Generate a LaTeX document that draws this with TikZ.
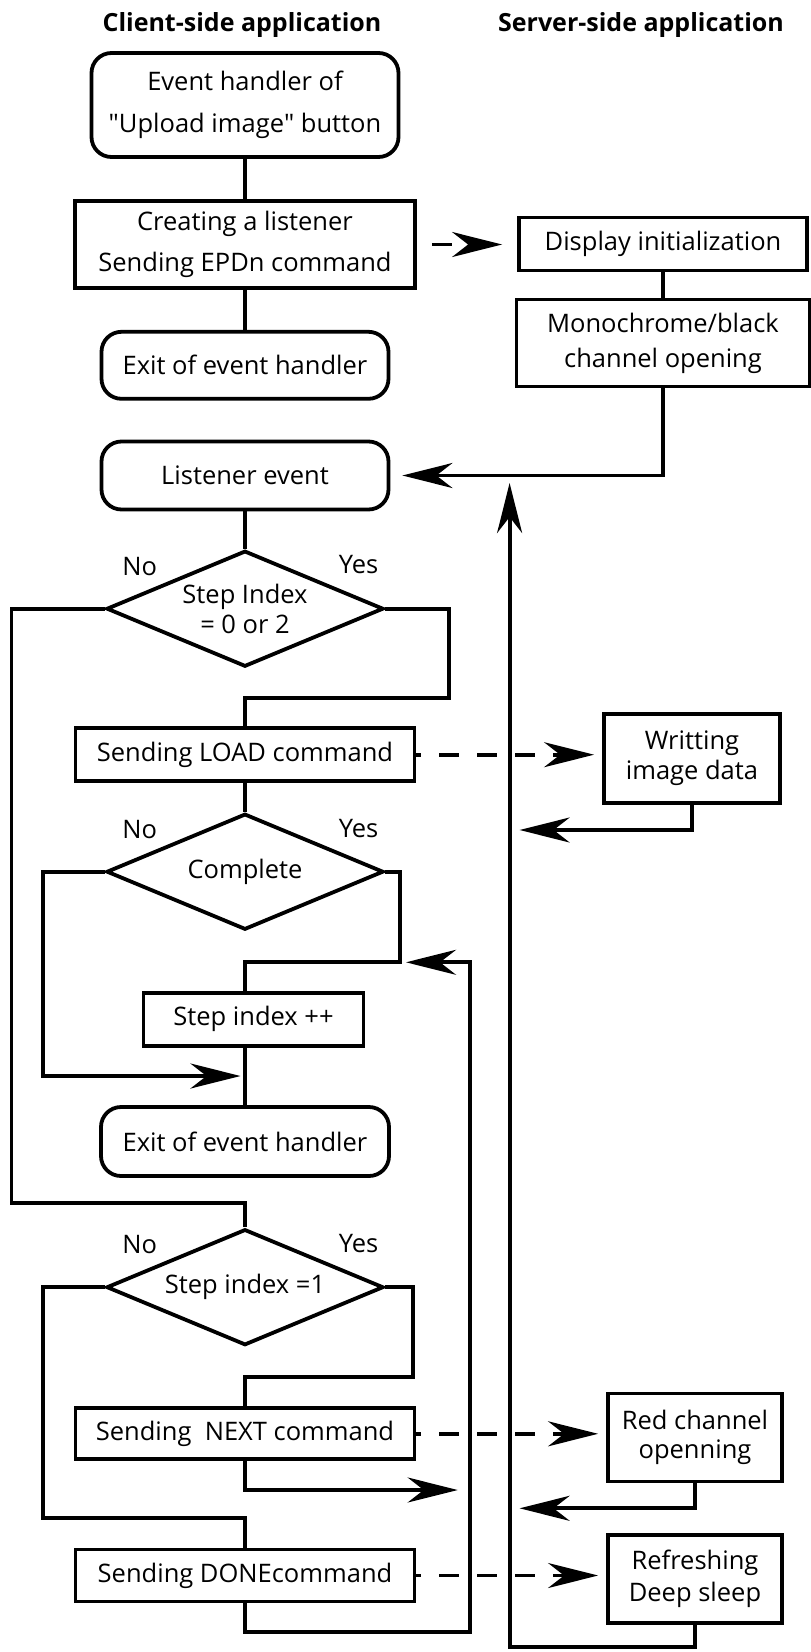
\documentclass[tikz,border=0pt]{standalone}
\usepackage{fontspec}
\setmainfont{Open Sans}
\usetikzlibrary{shapes.geometric,arrows.meta}
\begin{document}
\begin{tikzpicture}[x=1pt,y=-1pt, line width=3.8pt,
  every node/.style={font=\fontsize{25.5}{30}\selectfont, inner sep=0pt},
  box/.style={draw, rectangle, align=center},
  rbox/.style={draw, rectangle, rounded corners=20pt, align=center},
  dec/.style={draw, diamond, aspect=2.39, align=center, minimum width=277pt, minimum height=116pt},
  arr/.style={-{Stealth[length=50pt,width=25pt,inset=16pt]}},
  dsh/.style={dash pattern=on 20pt off 18pt},
  ttl/.style={font=\bfseries\fontsize{25}{30}\selectfont}
]
\useasboundingbox (0,0) rectangle (811,1652);

% titles
\node[ttl] (t1) at (242,25) {Client-side application};
\node[ttl] (t2) at (641,25) {Server-side application};

% client column
\node[rbox, minimum width=307pt, minimum height=104pt, font=\fontsize{25.5}{41.7}\selectfont] (b1) at (245,105) {Event handler of\\\textquotedbl Upload image\textquotedbl{} button};
\node[box, minimum width=340pt, minimum height=87pt, font=\fontsize{25.5}{41.7}\selectfont] (b2) at (245,244.5) {Creating a listener\\Sending EPDn command};
\node[rbox, minimum width=287pt, minimum height=67pt] (ex1) at (245,365.3) {Exit of event handler};
\node[rbox, minimum width=287pt, minimum height=68pt] (listen) at (245,475.5) {Listener event};
\node[dec] (d1) at (245,608.7) {Step Index\\= 0 or 2};
\node[box, minimum width=339pt, minimum height=53pt] (load) at (245,754.7) {Sending LOAD command};
\node[dec] (d2) at (245,871.7) {Complete};
\node[box, minimum width=220pt, minimum height=53pt] (stepinc) at (253.5,1019.3) {Step index ++};
\node[rbox, minimum width=288pt, minimum height=69pt] (ex2) at (245,1141.5) {Exit of event handler};
\node[dec] (d3) at (245,1287.2) {Step index =1};
\node[box, minimum width=339pt, minimum height=51pt] (next) at (245,1433.8) {Sending~ NEXT command};
\node[box, minimum width=339pt, minimum height=52pt] (done) at (245,1575.5) {Sending DONEcommand};

% yes / no labels
\node (n1) at (139.7,566.7) {No};
\node (y1) at (358.5,565) {Yes};
\node (n2) at (139.7,830) {No};
\node (y2) at (358.5,829) {Yes};
\node (n3) at (139.7,1245) {No};
\node (y3) at (358.5,1243.3) {Yes};

% server column
\node[box, minimum width=288pt, minimum height=53pt] (disp) at (663,244) {Display initialization};
\node[box, minimum width=293pt, minimum height=87pt, font=\fontsize{25.5}{35}\selectfont] (mono) at (663,343) {Monochrome/black\\channel opening};
\node[box, minimum width=176pt, minimum height=89pt] (write) at (692,758.3) {Writting\\image data};
\node[box, minimum width=174pt, minimum height=88pt, font=\fontsize{25.5}{29}\selectfont] (red) at (695,1437.5) {Red channel\\openning};
\node[box, minimum width=174pt, minimum height=88pt, font=\fontsize{25.5}{31.7}\selectfont] (refresh) at (695,1579) {Refreshing\\Deep sleep};

% bend coordinates
\coordinate (c1) at (11.4,1203.3);
\coordinate (c2) at (449,697.7);
\coordinate (c3) at (42.9,1076);
\coordinate (c4) at (400,962.3);
\coordinate (c5) at (42.9,1518.3);
\coordinate (c6) at (412.8,1376.7);
\coordinate (c7) at (469.7,1490);
\coordinate (c8) at (509.6,1508.3);
\coordinate (c9) at (469.7,1632.3);
\coordinate (c10) at (509.6,1646.7);
\coordinate (c11) at (509.6,476);
\coordinate (c12) at (509.6,830);

% client connectors
\draw (b1) -- (b2);
\draw (b2) -- (ex1);
\draw (listen) -- (d1);
\draw (d1.west) -| (c1) -| (d3.north);
\draw (d1.east) -| (c2) -| (load.north);
\draw (load) -- (d2);
\draw[arr, shorten >=4.5pt] (d2.west) -| (c3) -- (c3 -| ex2.north);
\draw (d2.east) -| (c4) -| (stepinc.north -| ex2.north);
\draw (stepinc.south -| ex2.north) -- (ex2.north);
\draw (d3.west) -| (c5) -| (done.north);
\draw (d3.east) -| (c6) -| (next.north);
\draw[arr, shorten >=12pt] (next.south) |- (c7);
\draw[arr, shorten >=6pt] (done.south) |- (c9) |- (c4);

% dashed requests
\draw[dsh, arr, shorten <=15pt, shorten >=15pt] (b2.east) -- (b2.east -| disp.west);
\draw[dsh, dash phase=15pt, arr, shorten >=8pt] (load.east) -- (load.east -| write.west);
\draw[dsh, dash phase=15pt, arr, shorten >=8pt] (next.east) -- (next.east -| red.west);
\draw[dsh, dash phase=15pt, arr, shorten >=8pt] (done.east) -- (done.east -| refresh.west);

% server connectors
\draw (disp) -- (mono);
\draw[arr, shorten >=12pt] (mono.south) |- (listen.east);
\draw[arr, shorten >=10pt] (write.south) |- (c12);
\draw[arr, shorten >=10pt] (red.south) |- (c8);
\draw[arr, shorten >=7pt] (refresh.south) |- (c10) -- (c11);
\end{tikzpicture}
\end{document}
